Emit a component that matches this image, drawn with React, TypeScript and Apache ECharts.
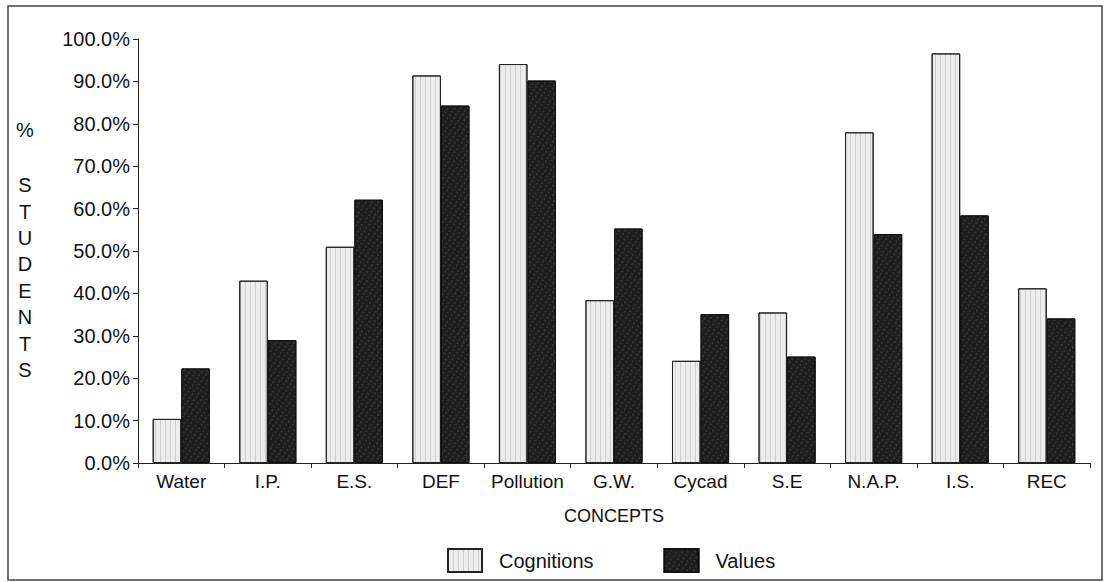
import React, { useEffect, useRef } from "react";
import * as echarts from "echarts";

const categories = ["Water", "I.P.", "E.S.", "DEF", "Pollution", "G.W.", "Cycad", "S.E", "N.A.P.", "I.S.", "REC"];
const cognitions = [10.4, 43.0, 51.0, 91.4, 94.1, 38.4, 24.1, 35.5, 78.0, 96.6, 41.2];
const values = [22.3, 29.0, 62.1, 84.3, 90.2, 55.3, 35.1, 25.1, 54.0, 58.4, 34.1];
const yTicks = { min: 0, max: 100, interval: 10 };
const seriesNames = ["Cognitions", "Values"];

const FONT = "Liberation Sans, Arial, Helvetica, sans-serif";

export default function App() {
  const ref = useRef<HTMLDivElement>(null);
  useEffect(() => {
    document.body.style.margin = "0";
    const chart = echarts.init(ref.current!, null, { renderer: "svg" });
    chart.setOption({
      animation: false,
      backgroundColor: "#ffffff",
      textStyle: { fontFamily: FONT, color: "#111" },
      grid: { left: 138, right: 20, top: 39, bottom: 119 },
      legend: {
        left: 442,
        top: 543,
        itemWidth: 34,
        itemHeight: 23,
        itemGap: 70,
        icon: "rect",
        textStyle: { fontFamily: FONT, fontSize: 20, color: "#111", padding: [0, 0, 0, 12] },
        data: seriesNames,
      },
      xAxis: {
        type: "category",
        data: categories,
        name: "CONCEPTS",
        nameLocation: "middle",
        nameGap: 44,
        nameTextStyle: { fontFamily: FONT, fontSize: 18, color: "#111" },
        axisLine: { lineStyle: { color: "#222", width: 1 } },
        axisTick: { show: true, length: 5, lineStyle: { color: "#222" } },
        axisLabel: { fontFamily: FONT, fontSize: 19, color: "#111", margin: 9, interval: 0 },
        splitLine: { show: false },
      },
      yAxis: {
        type: "value",
        min: yTicks.min,
        max: yTicks.max,
        interval: yTicks.interval,
        axisLine: { show: true, lineStyle: { color: "#222", width: 1 } },
        axisTick: { show: true, length: 5, lineStyle: { color: "#222" } },
        axisLabel: {
          fontFamily: FONT,
          fontSize: 20,
          color: "#111",
          margin: 8,
          formatter: (v: number) => v.toFixed(1) + "%",
        },
        splitLine: { show: false },
      },
      series: [
        {
          name: seriesNames[0],
          type: "bar",
          data: cognitions,
          barGap: "0%",
          barCategoryGap: "34%",
          itemStyle: {
            color: "#ededed",
            borderColor: "#222",
            borderWidth: 1,
            decal: {
              symbol: "rect",
              symbolSize: 1,
              color: "rgba(0,0,0,0.13)",
              dashArrayX: [1, 4],
              dashArrayY: [10, 0],
              rotation: 0,
            },
          },
        },
        {
          name: seriesNames[1],
          type: "bar",
          data: values,
          barGap: "0%",
          barCategoryGap: "34%",
          itemStyle: {
            color: "#1e1e1e",
            borderColor: "#111",
            borderWidth: 1,
            decal: {
              symbol: "circle",
              symbolSize: 0.7,
              color: "rgba(150,150,150,0.45)",
              dashArrayX: [[2, 3], [3, 2]],
              dashArrayY: [2, 2],
              rotation: 0.6,
            },
          },
        },
      ],
      graphic: [
        {
          type: "rect",
          shape: { x: 8, y: 6, width: 1094, height: 574 },
          style: { fill: "none", stroke: "#444", lineWidth: 1.5 },
          silent: true,
        },
        {
          type: "text",
          x: 25,
          y: 130,
          style: {
            text: "%",
            font: `20px ${FONT}`,
            fill: "#111",
            align: "center",
            verticalAlign: "middle",
          },
        },
        {
          type: "text",
          x: 25,
          y: 172,
          style: {
            text: "S\nT\nU\nD\nE\nN\nT\nS",
            font: `20px ${FONT}`,
            lineHeight: 26.4,
            fill: "#111",
            align: "center",
            verticalAlign: "top",
          },
        },
      ],
    });
    return () => chart.dispose();
  }, []);
  return <div ref={ref} style={{ width: 1110, height: 582 }} />;
}
